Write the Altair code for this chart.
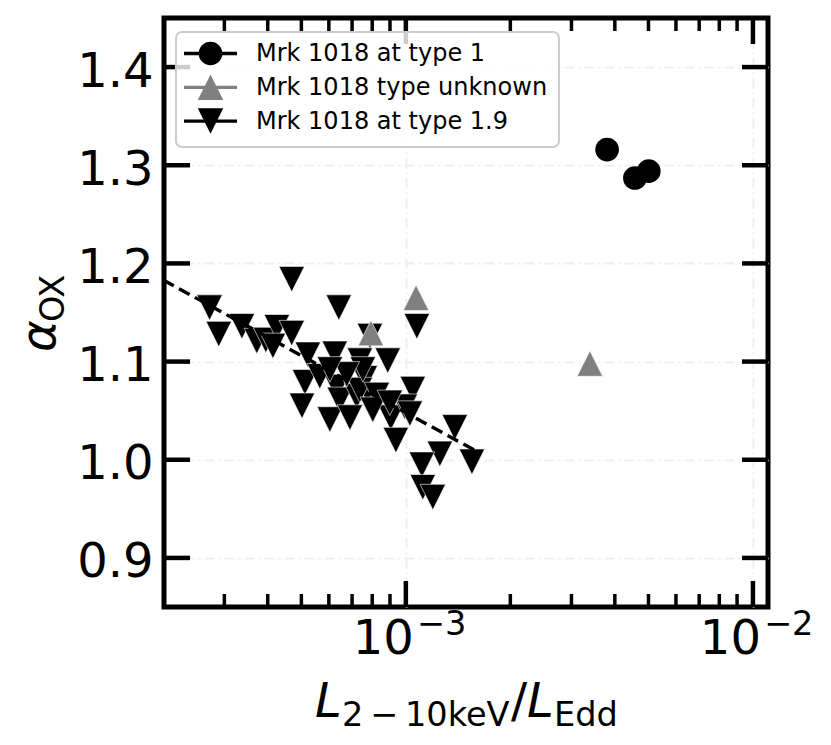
import altair as alt
import pandas as pd

FONT = "DejaVu Sans"

# ---------------- data ----------------
type1_x = [3.80e-3, 4.57e-3, 5.01e-3]
type1_y = [1.316, 1.287, 1.294]

unknown_x = [7.93e-4, 1.07e-3, 3.39e-3]
unknown_y = [1.129, 1.165, 1.098]

t19_x = [2.72e-4, 2.89e-4, 3.37e-4, 3.72e-4, 3.95e-4, 4.25e-4, 4.14e-4, 4.69e-4,
         4.69e-4, 5.22e-4, 5.12e-4, 5.02e-4, 6.41e-4, 6.24e-4, 7.88e-4, 7.37e-4,
         8.87e-4, 6.33e-4, 6.45e-4, 7.22e-4, 7.62e-4, 7.98e-4, 9.05e-4, 9.36e-4,
         1.047e-3, 9.93e-4, 6.04e-4, 6.90e-4, 7.37e-4, 8.25e-4, 8.03e-4, 1.027e-3,
         8.99e-4, 5.65e-4, 1.076e-3, 1.384e-3, 1.253e-3, 1.550e-3, 1.112e-3,
         1.119e-3, 1.196e-3, 7.52e-4, 6.76e-4, 6.04e-4]
t19_y = [1.155, 1.128, 1.136, 1.121, 1.122, 1.135, 1.116, 1.184,
         1.129, 1.107, 1.079, 1.055, 1.155, 1.108, 1.126, 1.101,
         1.101, 1.074, 1.061, 1.065, 1.083, 1.061, 1.043, 1.020,
         1.072, 1.054, 1.041, 1.043, 1.071, 1.066, 1.051, 1.047,
         1.058, 1.085, 1.136, 1.033, 1.006, 0.998, 0.995,
         0.972, 0.962, 1.092, 1.087, 1.092]

fit_x = [2.0e-4, 1.60e-3]
fit_y = [1.183, 1.0085]

legend_labels = ["Mrk 1018 at type 1", "Mrk 1018 type unknown", "Mrk 1018 at type 1.9"]
legend_colors = ["black", "#808080", "black"]

x_major = [1e-3, 1e-2]
x_sup = ["\u22123", "\u22122"]
x_minor = [3e-4, 4e-4, 5e-4, 6e-4, 7e-4, 8e-4, 9e-4,
           2e-3, 3e-3, 4e-3, 5e-3, 6e-3, 7e-3, 8e-3, 9e-3]
y_major = [0.9, 1.0, 1.1, 1.2, 1.3, 1.4]

# ---------------- layout ----------------
W, H = 604, 589
DOWN = "M-1,-1L1,-1L0,1Z"
UP = "M0,-1L1,1L-1,1Z"
TRI_SIZE = 650
CIRC_SIZE = 560

xscale = alt.Scale(type="log", domain=[2.01e-4, 1.105e-2], nice=False)
yscale = alt.Scale(domain=[0.85, 1.45], zero=False, nice=False)

grid_kw = dict(grid=True, gridColor="#efefef", gridWidth=2, gridDash=[10, 4, 2, 4])

xaxis = alt.Axis(values=x_major, labels=False, ticks=False, domain=False,
                 title=None, **grid_kw)
yaxis = alt.Axis(values=y_major, format=".1f", labelFontSize=48, labelFont=FONT,
                 labelColor="black", labelPadding=11, labelOffset=5,
                 ticks=False, tickSize=0, domain=False, title=None, **grid_kw)

df19 = pd.DataFrame({"x": t19_x, "y": t19_y})
dfu = pd.DataFrame({"x": unknown_x, "y": unknown_y})
df1 = pd.DataFrame({"x": type1_x, "y": type1_y})
dffit = pd.DataFrame({"x": fit_x, "y": fit_y})


def X():
    return alt.X("x:Q", scale=xscale, axis=xaxis)


def Y():
    return alt.Y("y:Q", scale=yscale, axis=yaxis)


tri19 = alt.Chart(df19).mark_point(
    shape=DOWN, filled=True, size=TRI_SIZE, fill="black", stroke="white",
    strokeWidth=0.6, opacity=1
).encode(x=X(), y=Y())

fit = alt.Chart(dffit).mark_line(
    color="black", strokeWidth=3.4, strokeDash=[12, 6], clip=True
).encode(x=X(), y=Y())

triu = alt.Chart(dfu).mark_point(
    shape=UP, filled=True, size=TRI_SIZE, fill="#808080", stroke="white",
    strokeWidth=0.6, opacity=1
).encode(x=X(), y=Y())

circ = alt.Chart(df1).mark_point(
    shape="circle", filled=True, size=CIRC_SIZE, fill="black", opacity=1
).encode(x=X(), y=Y())

# ---------------- inward ticks on all four sides ----------------
dfxmaj = pd.DataFrame({"x": x_major})
dfxmin = pd.DataFrame({"x": x_minor})
dfymaj = pd.DataFrame({"y": y_major})

MAJ, MIN = 26, 13


def xticks(df, y0, y1, w):
    return alt.Chart(df).mark_rule(color="black", strokeWidth=w).encode(
        x=X(), y=alt.value(y0), y2=alt.value(y1))


def yticks(df, x0, x1, w):
    return alt.Chart(df).mark_rule(color="black", strokeWidth=w).encode(
        y=Y(), x=alt.value(x0), x2=alt.value(x1))


ticks = [
    xticks(dfxmaj, H, H - MAJ, 4.5), xticks(dfxmaj, 0, MAJ, 4.5),
    xticks(dfxmin, H, H - MIN, 3.5), xticks(dfxmin, 0, MIN, 3.5),
    yticks(dfymaj, 0, MAJ, 4.5), yticks(dfymaj, W, W - MAJ, 4.5),
]

# ---------------- x tick labels (10^n) ----------------
dfxlab = pd.DataFrame({"x": x_major, "sup": x_sup})
lab10 = alt.Chart(dfxlab).mark_text(
    align="right", baseline="alphabetic", fontSize=48, font=FONT, color="black", dx=8
).encode(x=X(), y=alt.value(H + 47), text=alt.value("10"))
labsup = alt.Chart(dfxlab).mark_text(
    align="left", baseline="alphabetic", fontSize=33.6, font=FONT, color="black", dx=11
).encode(x=X(), y=alt.value(H + 28), text="sup:N")

# ---------------- axis titles (math-like) ----------------
one = pd.DataFrame({"k": [0]})


def txt(s, x, y, size, italic=False, angle=None):
    kw = dict(align="left", baseline="alphabetic", fontSize=size, font=FONT, color="black")
    if italic:
        kw["fontStyle"] = "italic"
    if angle is not None:
        kw["angle"] = angle
    return alt.Chart(one).mark_text(**kw).encode(
        x=alt.value(x), y=alt.value(y), text=alt.value(s))


TB = H + 110   # title baseline
SB = TB + 9    # subscript baseline
titles = [
    txt("L", 151, TB, 48, italic=True),
    txt("2\u2009\u2212\u200910keV", 178, SB, 33.6),
    txt("/", 347, TB, 48),
    txt("L", 363, TB, 48, italic=True),
    txt("Edd", 390, SB, 33.6),
    txt("\u03b1", -109, 334, 48, italic=True, angle=270),
    txt("OX", -100, 304, 33.6, angle=270),
]

# ---------------- legend ----------------
legend_layers = [
    alt.Chart(one).mark_rect(
        fill="white", fillOpacity=0.8, stroke="#cccccc", strokeWidth=2, cornerRadius=6
    ).encode(x=alt.value(12), x2=alt.value(395), y=alt.value(14), y2=alt.value(129))
]
legend_shapes = ["circle", UP, DOWN]
legend_sizes = [CIRC_SIZE, TRI_SIZE, TRI_SIZE]
for i, (lab, col, shp, sz) in enumerate(zip(legend_labels, legend_colors, legend_shapes, legend_sizes)):
    ry = 35.5 + 33.8 * i
    legend_layers.append(
        alt.Chart(one).mark_rule(color=col, strokeWidth=3.3).encode(
            x=alt.value(20), x2=alt.value(73), y=alt.value(ry)))
    legend_layers.append(
        alt.Chart(one).mark_point(shape=shp, filled=True, size=sz, fill=col, opacity=1).encode(
            x=alt.value(46.5), y=alt.value(ry)))
    legend_layers.append(
        alt.Chart(one).mark_text(align="left", baseline="alphabetic", fontSize=24,
                                 font=FONT, color="black").encode(
            x=alt.value(92), y=alt.value(ry + 7.6), text=alt.value(lab)))

chart = alt.layer(
    tri19, fit, triu, circ, *ticks, lab10, labsup, *titles, *legend_layers
).properties(
    width=W, height=H,
    autosize=alt.AutoSizeParams(type="none"),
    padding={"left": 156, "top": 10, "right": 55, "bottom": 130},
    background="white",
).configure_view(
    stroke="black", strokeWidth=5
)

chart.save("out.html", embed_options={"renderer": "svg", "actions": False})
